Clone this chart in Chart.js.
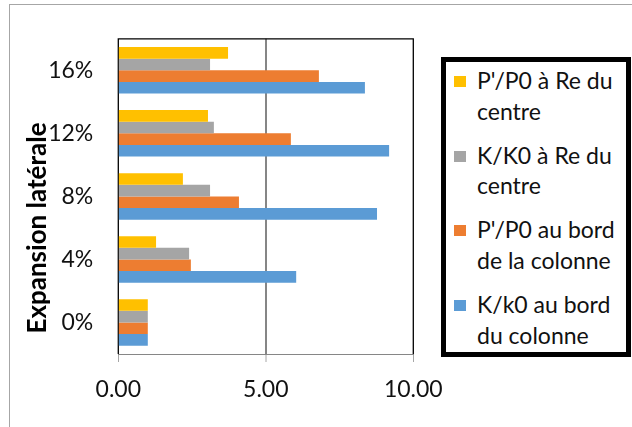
<!DOCTYPE html>
<html>
<head>
<meta charset="utf-8">
<script src="https://cdn.jsdelivr.net/npm/chart.js@4/dist/chart.umd.min.js"></script>
<style>
  html, body { margin: 0; padding: 0; background: #fff; }
  #wrap { position: relative; width: 632px; height: 427px; overflow: hidden; font-family: Lato, "Noto Sans", sans-serif; }
  #frame { position: absolute; left: 9px; top: 4px; right: -2px; bottom: -2px; border-top: 1px solid #a6a6a6; border-left: 1px solid #a6a6a6; }
  canvas { position: absolute; left: 0; top: 0; }
  #legend { position: absolute; left: 441px; top: 57px; width: 180px; height: 290px; border: 5px solid #000; background: #fff; box-sizing: content-box; }
  .item { position: absolute; left: 8px; width: 165px; }
  .sw { position: absolute; left: 0; top: 11px; width: 12px; height: 11px; }
  .txt { position: absolute; left: 23px; top: 0; width: 150px; font-size: 23px; line-height: 30.7px; color: #111; }
</style>
</head>
<body>
<div id="wrap">
  <div id="frame"></div>
  <canvas id="c" width="632" height="427"></canvas>
  <div id="legend"></div>
</div>
<script>
// Lateral expansion levels, listed top to bottom
const categories = ['16%', '12%', '8%', '4%', '0%'];

const seriesNames = [
  "P'/P0 à Re du centre",
  "K/K0 à Re du centre",
  "P'/P0 au bord de la colonne",
  "K/k0 au bord du colonne"
];

const pCentre   = [3.72, 3.04, 2.19, 1.28, 1.00];
const kCentre   = [3.11, 3.24, 3.11, 2.40, 1.00];
const pBord     = [6.80, 5.85, 4.09, 2.46, 1.00];
const kBord     = [8.36, 9.18, 8.77, 6.03, 1.00];

const xTicks = [0, 5, 10];

const colors = ['#FFC000', '#A5A5A5', '#ED7D31', '#5B9BD5'];
const seriesValues = [pCentre, kCentre, pBord, kBord];

const FONT = 'Lato, "Noto Sans", sans-serif';

// Black frame on top, left and right of the plot area, behind the bars
const framePlugin = {
  id: 'frame',
  beforeDatasetsDraw(chart) {
    const { ctx, chartArea: a } = chart;
    ctx.save();
    ctx.strokeStyle = '#000';
    ctx.lineWidth = 1.3;
    ctx.beginPath();
    ctx.moveTo(a.left, a.bottom);
    ctx.lineTo(a.left, a.top);
    ctx.lineTo(a.right, a.top);
    ctx.lineTo(a.right, a.bottom);
    ctx.stroke();
    ctx.restore();
  }
};

// Rotated axis title for the category axis
const axisTitlePlugin = {
  id: 'axisTitle',
  afterDraw(chart) {
    const { ctx } = chart;
    ctx.save();
    ctx.translate(38, 228);
    ctx.rotate(-Math.PI / 2);
    ctx.font = 'bold 26px ' + FONT;
    ctx.fillStyle = '#000';
    ctx.textAlign = 'center';
    ctx.textBaseline = 'middle';
    ctx.fillText('Expansion latérale', 0, 0);
    ctx.restore();
  }
};

const chart = new Chart(document.getElementById('c'), {
  type: 'bar',
  data: {
    labels: categories,
    datasets: seriesNames.map((name, i) => ({
      label: name,
      data: seriesValues[i],
      backgroundColor: colors[i],
      borderWidth: 0,
      categoryPercentage: 0.738,
      barPercentage: 1.0
    }))
  },
  options: {
    indexAxis: 'y',
    responsive: false,
    devicePixelRatio: 1,
    animation: false,
    layout: { padding: { top: 29, right: 218.7, bottom: 0, left: 0 } },
    plugins: {
      legend: { display: false },
      tooltip: { enabled: false }
    },
    scales: {
      x: {
        min: 0,
        max: 10,
        afterBuildTicks(scale) { scale.ticks = xTicks.map(v => ({ value: v })); },
        afterFit(scale) { scale.height = 73; },
        border: { display: true, color: '#868686', width: 1 },
        grid: {
          drawOnChartArea: true,
          drawTicks: true,
          tickLength: 8,
          tickColor: '#a6a6a6',
          tickWidth: 1,
          color: (c) => (c.tick && c.tick.value === 5 ? '#868686' : 'rgba(0,0,0,0)'),
          lineWidth: (c) => (c.tick && c.tick.value === 5 ? 2 : 1)
        },
        ticks: {
          padding: 14,
          color: '#111',
          font: { family: FONT, size: 23 },
          callback: (v) => Number(v).toFixed(2)
        }
      },
      y: {
        afterFit(scale) { scale.width = 118.3; },
        border: { display: false },
        grid: { display: false, drawTicks: false },
        ticks: {
          padding: 25,
          color: '#111',
          font: { family: FONT, size: 23 }
        }
      }
    }
  },
  plugins: [framePlugin, axisTitlePlugin]
});

// Boxed legend built from the chart's datasets
const legend = document.getElementById('legend');
chart.data.datasets.forEach((ds, i) => {
  const item = document.createElement('div');
  item.className = 'item';
  item.style.top = (3 + i * 74.7) + 'px';
  const sw = document.createElement('div');
  sw.className = 'sw';
  sw.style.background = ds.backgroundColor;
  const txt = document.createElement('div');
  txt.className = 'txt';
  txt.textContent = ds.label;
  item.appendChild(sw);
  item.appendChild(txt);
  legend.appendChild(item);
});
</script>
</body>
</html>
